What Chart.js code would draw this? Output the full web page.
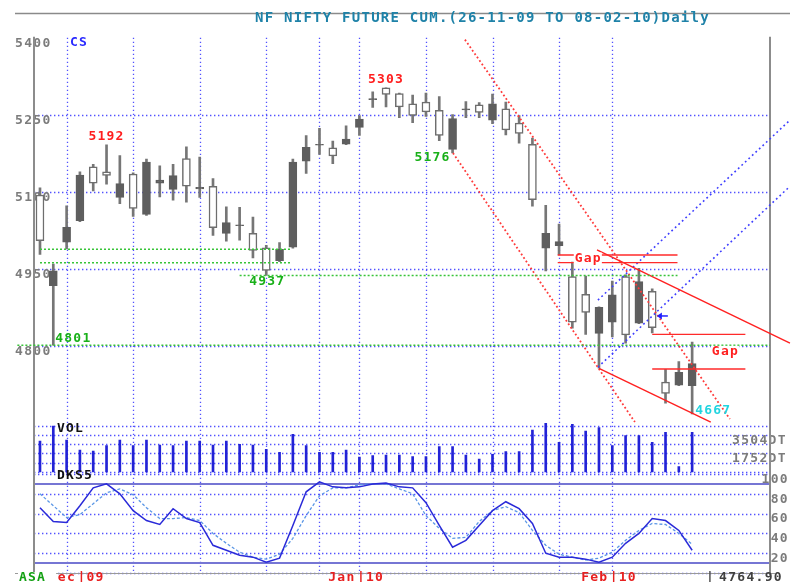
<!DOCTYPE html>
<html><head><meta charset="utf-8">
<script src="https://cdn.jsdelivr.net/npm/chart.js@4.4.1/dist/chart.umd.min.js"></script>
<style>html,body{margin:0;padding:0;background:#fff;overflow:hidden}canvas{display:block}</style>
</head><body>
<canvas id="c" width="793" height="582"></canvas>
<script>
// ---------- DATA ----------
const chartTitle = 'NF NIFTY FUTURE CUM.(26-11-09 TO 08-02-10)Daily';
const opens  = [5094,4917,5002,5044,5149,5139,5089,5135,5056,5117,5105,5165,5106,5111,5019,5034,5019,4991,4966,4992,5160,5191,5186,5193,5226,5280,5303,5292,5272,5275,5259,5183,5260,5270,5240,5262,5234,5193,4990,4995,4935,4900,4824,4846,4935,4844,4906,4729,4723,4722];
const highs  = [5108,4959,5073,5139,5154,5192,5171,5137,5164,5151,5154,5188,5168,5126,5071,5070,5051,4996,5001,5164,5210,5224,5199,5229,5249,5295,5303,5293,5289,5293,5286,5251,5276,5274,5291,5275,5249,5205,5074,5037,4963,4936,4876,4926,4938,4951,4911,4754,4769,4807];
const lows   = [4978,4801,4989,5042,5102,5115,5077,5052,5054,5090,5084,5080,5089,5015,5004,5006,4971,4937,4964,4990,5136,5173,5155,5192,5210,5265,5266,5245,5235,5247,5200,5176,5245,5245,5233,5211,5195,5072,4946,4977,4834,4822,4756,4817,4805,4843,4825,4688,4722,4667];
const closes = [5005,4946,5031,5133,5117,5132,5116,5068,5158,5123,5132,5111,5109,5030,5040,5036,4986,4947,4988,5158,5187,5193,5170,5203,5242,5282,5290,5266,5249,5256,5210,5243,5262,5255,5272,5221,5214,5085,5019,5003,4846,4865,4875,4899,4821,4925,4835,4707,4748,4764.90];
const volumes = [2936,4356,3030,2083,1989,2491,3030,2491,3030,2557,2491,2936,2936,2557,2936,2623,2557,2150,1866,3570,2491,1866,1866,2083,1420,1544,1610,1610,1449,1449,2396,2396,1610,1231,1676,1922,1922,3977,4612,2813,4517,3883,4195,2491,3438,3438,2813,3760,502,3760];
const dks5     = [66,52,51,68,86,90,80,63,53,49,65,55,51,28,23,18,16,11,15,48,82,92,87,86,87,90,91,87,86,71,48,26,33,48,63,72,65,50,20,16,16,14,11,16,30,40,55,53,43,23];
const dks5Sig  = [80,68,56,59,70,81,85,79,66,55,55,56,53,40,30,21,16,14,19,35,58,78,86,86,89,90,90,85,80,58,45,35,36,52,63,67,61,43,28,19,16,13,15,21,33,43,50,49,40,29];
const priceTicks = [5400,5250,5100,4950,4800];
const priceGrid  = [5250,5100,4950,4800];
const volTicks   = [1752,3504];
const volGrid    = [0,876,1752,2628,3504,4380];
const oscTicks   = [100,80,60,40,20];
const oscGrid    = [0,20,40,60,80,100];
const oscBands   = [90,10];
const weekStarts = [2,7,12,17,21,24,29,34,39,43];
const monthMarks = [{i:3,m:'Dec',y:'09'},{i:24,m:'Jan',y:'10'},{i:43,m:'Feb',y:'10'}];
const highNotes  = [{i:5,v:5192},{i:26,v:5303}];
const lowNotes   = [{i:31,v:5176},{i:17,v:4937},{i:1,v:4801},{i:49,v:4667}];
// support levels (green dotted): [fromIndex, toIndex, price]
const supportLevels = [[0,18.9,4988],[0,18.9,4962],[15,47.9,4937],[-1.7,54.85,4801]];
// gaps: [fromIndex, toIndex, upper, lower, labelIndex, labelPrice]
const gaps = [[38.9,47.9,4977,4962,41.2,4970],[46,53,4822,4754.5,51.5,4788]];
// trend lines: [index0, price0, index1, price1]
const redSolid   = [[41.85,4987,56.35,4805],[42,4756,50.4,4651]];
const redDotted  = [[31.03,5176,44.7,4651],[31.93,5397,51.84,4657]];
const blueDotted = [[41.92,4758,56.35,5111],[41.92,4889,56.35,5240]];
const arrowMark  = {i:46.35, v:4858};

// ---------- LAYOUT ----------
const AREA = {left:34, top:37.7, right:770, bottom:573};
const X_MIN = -0.45, X_MAX = 54.85;
function calib(v1,p1,v2,p2){const per=(v1-v2)/(p2-p1);return {min:v2-(AREA.bottom-p2)*per,max:v1+(p1-AREA.top)*per};}
const rP = calib(5250,115,4800,345.7);
const rV = calib(1752,453.5,0,472);
const rO = calib(100,474,0,573);

const MONO = '"DejaVu Sans Mono", "Liberation Mono", monospace';
function txt(ctx,s,x,y,color,align,size,spacing,bg,bgPad){
  ctx.save();
  ctx.font = 'bold '+(size||13)+'px '+MONO;
  if ('letterSpacing' in ctx) ctx.letterSpacing = (spacing==null?1.2:spacing)+'px';
  ctx.textAlign = align||'left'; ctx.textBaseline='middle';
  if (bg){const w=ctx.measureText(s).width;let x0=x;if(align==='center')x0=x-w/2;else if(align==='right')x0=x-w;const p=bgPad||1;ctx.fillStyle=bg;ctx.fillRect(x0-1,y-6,w+p,12);}
  ctx.fillStyle=color; ctx.fillText(s,x,y); ctx.restore();
}
function hline(ctx,x0,x1,y,color,w,dash){ctx.save();ctx.strokeStyle=color;ctx.lineWidth=w;ctx.setLineDash(dash||[]);ctx.beginPath();ctx.moveTo(x0,y);ctx.lineTo(x1,y);ctx.stroke();ctx.restore();}
function vline(ctx,x,y0,y1,color,w,dash){ctx.save();ctx.strokeStyle=color;ctx.lineWidth=w;ctx.setLineDash(dash||[]);ctx.beginPath();ctx.moveTo(x,y0);ctx.lineTo(x,y1);ctx.stroke();ctx.restore();}

const GRID='#5252ff', GDASH=[1.4,2.6], AXIS='#8c8c8c', LBL='#7c7c7c';
const backPlugin = {
  id:'back',
  beforeDatasetsDraw(chart){
    const ctx=chart.ctx, s=chart.scales, a=chart.chartArea;
    weekStarts.forEach(i=>vline(ctx,Math.round(s.x.getPixelForValue(i))+0.5,a.top,a.bottom,GRID,1.3,GDASH));
    priceGrid.forEach(v=>hline(ctx,a.left,a.right,Math.round(s.yP.getPixelForValue(v))+0.5,GRID,1.3,GDASH));
    volGrid.forEach(v=>hline(ctx,a.left,a.right,Math.round(s.yV.getPixelForValue(v))+0.5,GRID,1.3,GDASH));
    oscGrid.forEach(v=>hline(ctx,a.left,a.right,Math.round(s.yO.getPixelForValue(v))+0.5,GRID,1.3,GDASH));
    oscBands.forEach(v=>hline(ctx,a.left,a.right,s.yO.getPixelForValue(v),'#7676d4',2));
    priceTicks.forEach(v=>txt(ctx,String(v),15,s.yP.getPixelForValue(v)+5.5,LBL,'left',13,1.3));
    volTicks.forEach(v=>txt(ctx,v+'DT',732,s.yV.getPixelForValue(v)+5.5,LBL,'left',13,1.3));
    oscTicks.forEach(v=>txt(ctx,String(v),789,s.yO.getPixelForValue(v)+5.5,LBL,'right',13,1.3));
    hline(ctx,15,790,13.5,'#8a8a8a',1.5);
    vline(ctx,a.left,a.top-1,a.bottom+2,AXIS,2);
    vline(ctx,a.right,a.top-1,a.bottom+2,AXIS,2);
    hline(ctx,15,775,a.bottom+0.5,'#9a9a9a',1);
  },
  afterDatasetsDraw(chart){
    const ctx=chart.ctx, s=chart.scales;
    const X=i=>s.x.getPixelForValue(i), Y=v=>s.yP.getPixelForValue(v);
    txt(ctx,chartTitle,255,18.5,'#1f82a8','left',14,1.25);
    txt(ctx,'CS',70,43,'#2a2aff','left',13,1.2);
    txt(ctx,'VOL',57,429,'#111','left',13,1.2);
    txt(ctx,'DKS5',57,476,'#111','left',13,1.2);
    highNotes.forEach(n=>txt(ctx,String(n.v),X(n.i),Y(n.v)-8.5,'#ff1e1e','center',13,1.2));
    const ln=lowNotes;
    txt(ctx,String(ln[0].v),X(ln[0].i)-2,Y(ln[0].v)+4.5,'#19b019','right',13,1.2);
    txt(ctx,String(ln[1].v),X(ln[1].i)+1,Y(ln[1].v)+6.5,'#19b019','center',13,1.2);
    txt(ctx,String(ln[2].v),X(ln[2].i)+2,Y(ln[2].v)-6.5,'#19b019','left',13,1.2);
    txt(ctx,String(ln[3].v),X(ln[3].i)+3,Y(ln[3].v)-3,'#22d4e0','left',13,1.2);
    gaps.forEach(g=>txt(ctx,'Gap',X(g[4]),Y(g[5]),'#ff2020','center',13,1.2,'#ffffff'));
    const ax=X(arrowMark.i), ay=Y(arrowMark.v);
    ctx.save();ctx.strokeStyle='#2020ff';ctx.fillStyle='#2020ff';ctx.lineWidth=1.5;
    ctx.beginPath();ctx.moveTo(ax+3,ay);ctx.lineTo(ax+11,ay);ctx.stroke();
    ctx.beginPath();ctx.moveTo(ax,ay);ctx.lineTo(ax+5,ay-3.5);ctx.lineTo(ax+5,ay+3.5);ctx.closePath();ctx.fill();ctx.restore();
    monthMarks.forEach(m=>{const x=X(m.i);txt(ctx,m.m,x-4,578,'#e82020','right',13,1.2);txt(ctx,'|'+m.y,x-2.5,578,'#e82020','left',13,1.2);});
    txt(ctx,'ASA',19,578,'#12a012','left',13,1.2,'#ffffff',11);
    txt(ctx,'|',706,578,'#505050','left',13,0);
    txt(ctx,closes[closes.length-1].toFixed(2),719,578,'#404040','left',13,1.3);
  }
};

function seg(l){return [{x:l[0],y:l[1]},{x:l[2],y:l[3]}];}
const datasets = [];
const lineBase = {type:'line',xAxisID:'x',yAxisID:'yP',pointRadius:0,tension:0,fill:false,clip:false,order:1};
supportLevels.forEach(l=>datasets.push(Object.assign({},lineBase,{data:[{x:l[0],y:l[2]},{x:l[1],y:l[2]}],borderColor:'#38c438',borderWidth:1.5,borderDash:[2,2]})));
gaps.forEach(g=>{
  datasets.push(Object.assign({},lineBase,{data:[{x:g[0],y:g[2]},{x:g[1],y:g[2]}],borderColor:'#ff2a2a',borderWidth:1.4}));
  datasets.push(Object.assign({},lineBase,{data:[{x:g[0],y:g[3]},{x:g[1],y:g[3]}],borderColor:'#ff2a2a',borderWidth:1.4}));
});
redSolid.forEach(l=>datasets.push(Object.assign({},lineBase,{data:seg(l),borderColor:'#ff2020',borderWidth:1.4})));
redDotted.forEach(l=>datasets.push(Object.assign({},lineBase,{data:seg(l),borderColor:'#ff3a3a',borderWidth:1.8,borderDash:[1.8,2.4]})));
blueDotted.forEach(l=>datasets.push(Object.assign({},lineBase,{data:seg(l),borderColor:'#3e3eff',borderWidth:1.6,borderDash:[1.8,3]})));
const up = closes.map((c,i)=>c>=opens[i]);
datasets.push({type:'bar',xAxisID:'x',yAxisID:'yP',grouped:false,order:6,barThickness:2,
  data:highs.map((h,i)=>({x:i,y:[lows[i],h]})),backgroundColor:'#767676',borderWidth:0});
datasets.push({type:'bar',xAxisID:'x',yAxisID:'yP',grouped:false,order:5,barThickness:8,borderSkipped:false,
  data:opens.map((o,i)=>({x:i,y:[o,closes[i]]})),
  backgroundColor:up.map(u=>u?'#5e5e5e':'#ffffff'),borderColor:up.map(u=>u?'#5e5e5e':'#6e6e6e'),borderWidth:1.5});
datasets.push({type:'bar',xAxisID:'x',yAxisID:'yV',grouped:false,order:7,barThickness:2,
  data:volumes.map((v,i)=>({x:i,y:v})),backgroundColor:'#2222d6',borderWidth:0});
datasets.push({type:'line',xAxisID:'x',yAxisID:'yO',order:3,pointRadius:0,tension:0,fill:false,
  data:dks5Sig.map((v,i)=>({x:i,y:v})),borderColor:'#5a96e6',borderWidth:1.3,borderDash:[3,2]});
datasets.push({type:'line',xAxisID:'x',yAxisID:'yO',order:2,pointRadius:0,tension:0,fill:false,
  data:dks5.map((v,i)=>({x:i,y:v})),borderColor:'#2a2ad8',borderWidth:1.5});

new Chart(document.getElementById('c').getContext('2d'),{
  type:'line',
  data:{datasets},
  options:{
    responsive:false, animation:false, events:[], devicePixelRatio:1,
    layout:{padding:{left:AREA.left,top:AREA.top,right:793-AREA.right,bottom:582-AREA.bottom}},
    plugins:{legend:{display:false},tooltip:{enabled:false},title:{display:false}},
    scales:{
      x:{type:'linear',min:X_MIN,max:X_MAX,display:false,offset:false},
      yP:{axis:'y',type:'linear',min:rP.min,max:rP.max,display:false},
      yV:{axis:'y',type:'linear',min:rV.min,max:rV.max,display:false},
      yO:{axis:'y',type:'linear',min:rO.min,max:rO.max,display:false}
    }
  },
  plugins:[backPlugin]
});
</script>
</body></html>
